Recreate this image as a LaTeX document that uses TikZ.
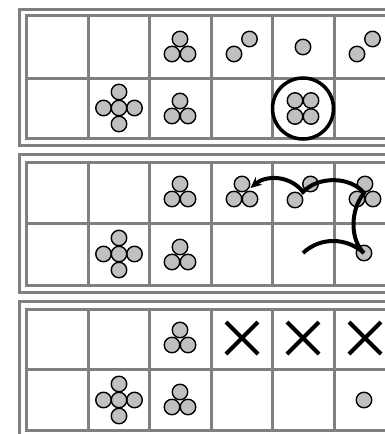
\documentclass[tikz,border=0pt]{standalone}
\usetikzlibrary{arrows.meta}
\definecolor{gridgray}{RGB}{128,128,128}
\definecolor{ballgray}{RGB}{192,192,192}
\tikzset{
  gridline/.style={draw=gridgray,line width=3},
  ball/.style={circle,draw=black,fill=ballgray,line width=1.4,minimum size=15.5,inner sep=0},
  ring/.style={circle,draw=black,line width=3.5,minimum size=61,inner sep=0},
  crossline/.style={line width=4},
  move/.style={line width=4,-{Stealth[length=11,width=10]}},
}
\newcommand\mypanel[5]{%
  \draw[gridline] (19.5,#1) rectangle (430,#5);
  \draw[gridline] (26.5,#2) rectangle (430,#4);
  \draw[gridline] (26.5,#3) -- (430,#3);
  \foreach \xx in {88,149.5,211,272.5,334,395.5} \draw[gridline] (\xx,#2) -- (\xx,#4);
}
\newcommand\mytri[3]{% name prefix, x, y(top)
  \node[ball] (#1t) at (#2,#3) {};
  \node[ball] (#1l) at ({#2-8},{#3+15}) {};
  \node[ball] (#1r) at ({#2+8},{#3+15}) {};
}
\newcommand\myplus[3]{% name prefix, x, y(center)
  \node[ball] (#1u) at (#2,{#3-16}) {};
  \node[ball] (#1d) at (#2,{#3+16}) {};
  \node[ball] (#1w) at ({#2-15.5},#3) {};
  \node[ball] (#1e) at ({#2+15.5},#3) {};
  \node[ball] (#1c) at (#2,#3) {};
}
\begin{document}
\begin{tikzpicture}[x=1pt,y=-1pt]
\useasboundingbox (0,0) rectangle (385,434);
\clip (0,0) rectangle (385,434);
\fill[white] (0,0) rectangle (385,434);
% ---------- panel 1
\mypanel{9.5}{15.5}{78}{138.5}{145.5}
\mytri{pa}{180}{39}
\node[ball] (pb1) at (234,54) {};
\node[ball] (pb2) at (249.5,39) {};
\node[ball] (pc) at (303,47) {};
\node[ball] (pd1) at (357,54) {};
\node[ball] (pd2) at (372.5,39) {};
\myplus{pe}{119}{108}
\mytri{pf}{180}{101}
\node[ring] (pring) at (303,108.5) {};
\node[ball] (pg1) at (295,100.5) {};
\node[ball] (pg2) at (311,100.5) {};
\node[ball] (pg3) at (295,116.5) {};
\node[ball] (pg4) at (311,116.5) {};
% ---------- panel 2
\mypanel{154}{162}{223}{285}{292.5}
\mytri{qa}{180}{184}
\mytri{qb}{242}{184}
\node[ball] (qc1) at (295,200) {};
\node[ball] (qc2) at (310.5,184) {};
\mytri{qd}{365}{184}
\myplus{qe}{119}{254}
\mytri{qf}{180}{247}
\node[ball] (qg) at (364,253) {};
\coordinate (qstart) at (303,253);
\coordinate (qj1) at (364,193);
\coordinate (qj2) at (303,192);
\coordinate (qtip) at (250.5,188);
\draw[move] (qstart) .. controls (320,237) and (346,237) .. (qg.center)
  .. controls (350,240) and (350,210) .. (qj1)
  .. controls (350,176) and (318,176) .. (qj2)
  .. controls (290,175) and (266,175) .. (qtip);
% ---------- panel 3
\mypanel{301}{309}{369}{430}{437.5}
\mytri{ra}{180}{330}
\foreach \cx [count=\i] in {242,303,365} {
  \draw[crossline] ({\cx-16},322) -- ({\cx+16},354);
  \draw[crossline] ({\cx-16},354) -- ({\cx+16},322);
}
\myplus{re}{119}{400}
\mytri{rf}{180}{392}
\node[ball] (rg) at (364,400) {};
\end{tikzpicture}
\end{document}
